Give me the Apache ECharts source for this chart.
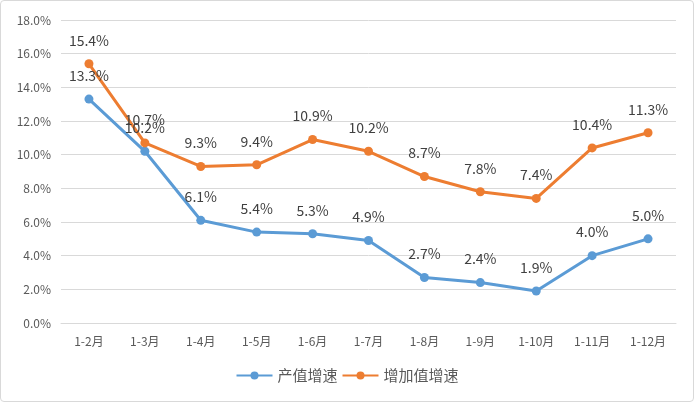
<!DOCTYPE html>
<html>
<head>
<meta charset="utf-8">
<script src="https://cdn.jsdelivr.net/npm/echarts@6/dist/echarts.min.js"></script>
<style>
  html, body { margin: 0; padding: 0; background: #fff; }
  #chart { width: 692px; height: 400px; border: 1px solid #d9d9d9; border-radius: 4px; }
</style>
</head>
<body>
<div id="chart"></div>
<script>
const months = ['1-2月', '1-3月', '1-4月', '1-5月', '1-6月', '1-7月', '1-8月', '1-9月', '1-10月', '1-11月', '1-12月'];
// 产值增速
const outputGrowth = [13.3, 10.2, 6.1, 5.4, 5.3, 4.9, 2.7, 2.4, 1.9, 4.0, 5.0];
// 增加值增速
const addedValueGrowth = [15.4, 10.7, 9.3, 9.4, 10.9, 10.2, 8.7, 7.8, 7.4, 10.4, 11.3];

const font = '"Noto Sans CJK SC", "Liberation Sans", sans-serif';

const lineSeries = (name, color, data) => ({
  name,
  type: 'line',
  data,
  symbol: 'circle',
  symbolSize: 9,
  lineStyle: { width: 3, color },
  itemStyle: { color },
  label: {
    show: true,
    position: 'top',
    distance: 12,
    color: '#404040',
    fontSize: 14,
    fontFamily: font,
    formatter: (p) => p.value.toFixed(1) + '%',
  },
});

const option = {
  animation: false,
  textStyle: { fontFamily: font },
  grid: { left: 60, right: 17, top: 19, bottom: 78, containLabel: false },
  legend: {
    bottom: 13,
    itemWidth: 36,
    itemHeight: 10,
    itemGap: 4,
    textStyle: { color: '#595959', fontSize: 15, fontFamily: font },
    data: ['产值增速', '增加值增速'],
  },
  xAxis: {
    type: 'category',
    data: months,
    axisLine: { lineStyle: { color: '#d9d9d9' } },
    axisTick: { show: false },
    axisLabel: { color: '#595959', fontSize: 12, margin: 12, fontFamily: font },
  },
  yAxis: {
    type: 'value',
    min: 0,
    max: 18,
    interval: 2,
    axisLine: { show: false },
    axisTick: { show: false },
    splitLine: { lineStyle: { color: '#d9d9d9' } },
    axisLabel: {
      color: '#595959',
      fontSize: 12,
      margin: 10,
      fontFamily: font,
      formatter: (v) => v.toFixed(1) + '%',
    },
  },
  series: [
    lineSeries('产值增速', '#5b9bd5', outputGrowth),
    lineSeries('增加值增速', '#ed7d31', addedValueGrowth),
  ],
};

const chart = echarts.init(document.getElementById('chart'));
chart.setOption(option);
</script>
</body>
</html>
